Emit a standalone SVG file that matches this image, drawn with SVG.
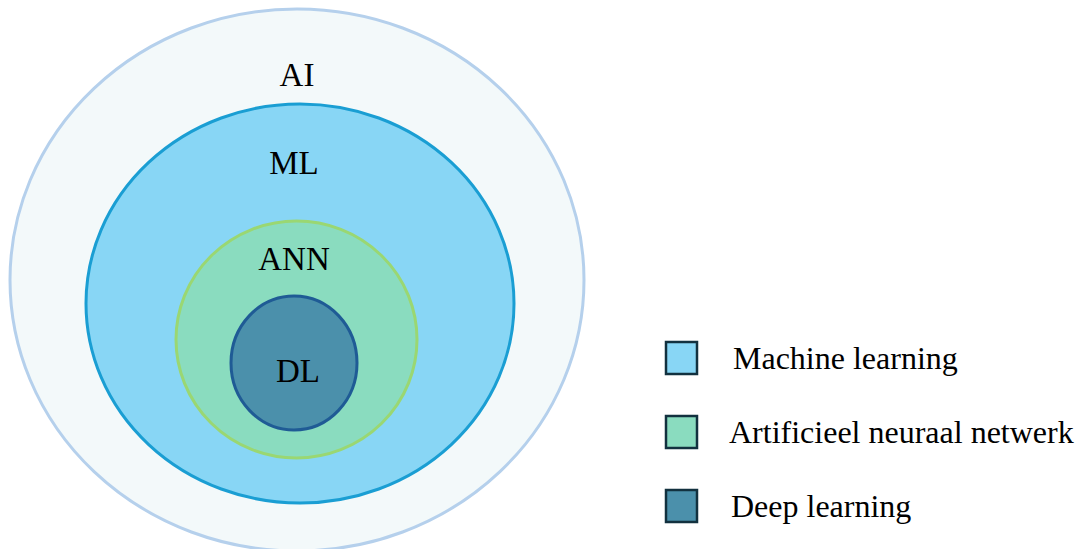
<svg xmlns="http://www.w3.org/2000/svg" width="1077" height="549" viewBox="0 0 1077 549">
<style>
text{font-family:"Liberation Serif","Times New Roman",serif;fill:#000}
.lbl{font-size:33px;text-anchor:middle}
.leg{font-size:32px}
.sw{stroke:#12313f;stroke-width:2.5}
</style>
<rect width="1077" height="549" fill="#fff"/>
<g id="ai"><ellipse cx="297" cy="280" rx="287" ry="271" fill="#f3f9fa" stroke="#b5d0ec" stroke-width="3"/><text class="lbl" x="297" y="86">AI</text></g>
<g id="ml"><ellipse cx="300" cy="303.5" rx="214" ry="199.5" fill="#88d6f5" stroke="#1a9ed3" stroke-width="3"/><text class="lbl" x="294" y="174">ML</text></g>
<g id="ann"><ellipse cx="296.5" cy="339.5" rx="120.5" ry="118.5" fill="#8adcbf" stroke="#9ad772" stroke-width="3"/><text class="lbl" x="294" y="270">ANN</text></g>
<g id="dl"><ellipse cx="294" cy="363" rx="63" ry="67" fill="#4b90ab" stroke="#1f5b95" stroke-width="3"/><text class="lbl" x="298" y="382">DL</text></g>
<g id="legend">
<g id="leg-ml"><rect class="sw" x="666" y="342" width="31" height="32" fill="#88d6f5"/><text class="leg" x="733" y="369">Machine learning</text></g>
<g id="leg-ann"><rect class="sw" x="666" y="416" width="31" height="32" fill="#8adcbf"/><text class="leg" x="729" y="443">Artificieel neuraal netwerk</text></g>
<g id="leg-dl"><rect class="sw" x="666" y="490" width="31" height="32" fill="#4b90ab"/><text class="leg" x="731" y="517">Deep learning</text></g>
</g>
<g id="connectors"/>
</svg>
